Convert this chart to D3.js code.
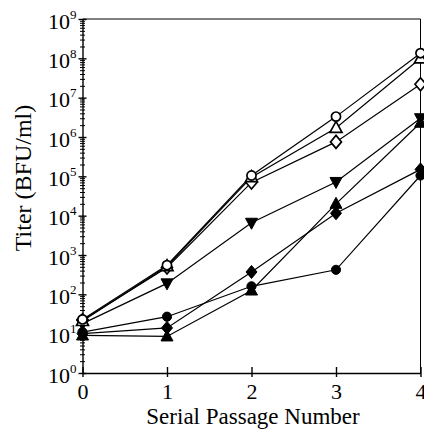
<!DOCTYPE html>
<html>
<head>
<meta charset="utf-8">
<script src="https://cdn.jsdelivr.net/npm/d3@7"></script>
<style>
  body { margin: 0; background: #fff; }
  text { font-family: "Liberation Serif", "DejaVu Serif", serif; fill: #000; }
</style>
</head>
<body>
<div id="vis"></div>
<script>
// values (titer in BFU/ml per passage)
const passages = [0, 1, 2, 3, 4];
const openCircle = [23, 550, 105000, 3300000, 135000000];
const openTriangle = [21, 520, 95000, 1700000, 100000000];
const openDiamond = [22, 480, 70000, 750000, 22000000];
const filledDownTriangle = [18, 190, 6600, 72000, 3000000];
const filledDiamond = [10, 14, 370, 11500, 150000];
const filledTriangle = [9, 8.5, 125, 20000, 2300000];
const filledCircle = [11, 27, 160, 420, 105000];

const yMajor = [1, 10, 100, 1e3, 1e4, 1e5, 1e6, 1e7, 1e8, 1e9];
const xTicks = [0, 1, 2, 3, 4];

const series = [
  { vals: filledCircle, shape: "circle", filled: true },
  { vals: filledTriangle, shape: "up", filled: true },
  { vals: filledDiamond, shape: "diamond", filled: true },
  { vals: filledDownTriangle, shape: "down", filled: true },
  { vals: openDiamond, shape: "diamond", filled: false },
  { vals: openTriangle, shape: "up", filled: false },
  { vals: openCircle, shape: "circle", filled: false },
];

let width = 424;
let height = 430;

let svg = d3.select("#vis").append("svg")
  .attr("width", width)
  .attr("height", height);

let x = d3.scaleLinear().domain([0, 4]).range([82.5, 420.5]);
let y = d3.scaleLog().domain([1, 1e9]).range([373, 19]);

// frame: top and right
svg.append("path")
  .attr("d", `M${x(0)},${y(1e9)}H${x(4)}V${y(1)}`)
  .attr("fill", "none")
  .attr("stroke", "#000")
  .attr("stroke-width", 1);

// minor y ticks
let minors = [];
for (let e = 0; e < 9; e++) {
  for (let k = 2; k <= 9; k++) minors.push(k * Math.pow(10, e));
}

let yMinorAxis = svg.append("g")
  .attr("transform", `translate(${x(0)},0)`)
  .call(d3.axisLeft(y).tickValues(minors).tickFormat("").tickSizeOuter(0));
yMinorAxis.select(".domain").remove();
yMinorAxis.selectAll(".tick line").attr("x1", 2.5).attr("x2", -2.5);

let yAxis = svg.append("g")
  .attr("transform", `translate(${x(0)},0)`)
  .call(d3.axisLeft(y).tickValues(yMajor).tickFormat("").tickSizeOuter(0));
yAxis.select(".domain").attr("stroke-width", 1.4);
yAxis.selectAll(".tick line").attr("x1", 4).attr("x2", -4).attr("stroke-width", 1.4);

// y labels as 10 with superscript
yAxis.selectAll(".tick").each(function (d) {
  let t = d3.select(this).append("text")
    .attr("x", -6)
    .attr("y", 9)
    .attr("text-anchor", "end")
    .style("font-size", "22px");
  t.append("tspan").text("10");
  t.append("tspan")
    .attr("dy", -10)
    .style("font-size", "13px")
    .text(Math.round(Math.log10(d)));
});

let xAxis = svg.append("g")
  .attr("transform", `translate(0,${y(1)})`)
  .call(d3.axisBottom(x).tickValues(xTicks).tickFormat("").tickSizeOuter(0));
xAxis.select(".domain").attr("stroke-width", 1.4);
xAxis.selectAll(".tick line").attr("y1", -6).attr("y2", 4).attr("stroke-width", 1.4);
xAxis.selectAll(".tick").append("text")
  .attr("y", 26)
  .attr("text-anchor", "middle")
  .style("font-size", "22px")
  .text(d => d);

svg.append("text")
  .attr("x", 253)
  .attr("y", 424)
  .attr("text-anchor", "middle")
  .style("font-size", "23px")
  .text("Serial Passage Number");

svg.append("text")
  .attr("transform", "translate(31,178) rotate(-90)")
  .attr("text-anchor", "middle")
  .style("font-size", "24px")
  .text("Titer (BFU/ml)");

let line = d3.line()
  .x((d, i) => x(passages[i]))
  .y(d => y(d));

svg.append("g").selectAll("path")
  .data(series)
  .enter()
  .append("path")
  .attr("d", d => line(d.vals))
  .attr("fill", "none")
  .attr("stroke", "#000")
  .attr("stroke-width", 1.2);

function shapePath(shape) {
  if (shape === "circle") return d3.symbol().type(d3.symbolCircle).size(66)();
  if (shape === "up") return "M0,-6.5L6,4.5L-6,4.5Z";
  if (shape === "down") return "M0,6.5L6,-4.5L-6,-4.5Z";
  return "M0,-6.5L5.5,0L0,6.5L-5.5,0Z";
}

let marks = svg.append("g");
series.forEach(function (s) {
  marks.selectAll(null)
    .data(s.vals)
    .enter()
    .append("path")
    .attr("transform", (d, i) => `translate(${x(passages[i])},${y(d)})`)
    .attr("d", shapePath(s.shape))
    .attr("fill", s.filled ? "#000" : "#fff")
    .attr("stroke", "#000")
    .attr("stroke-width", s.filled ? 1 : 1.7);
});
</script>
</body>
</html>
